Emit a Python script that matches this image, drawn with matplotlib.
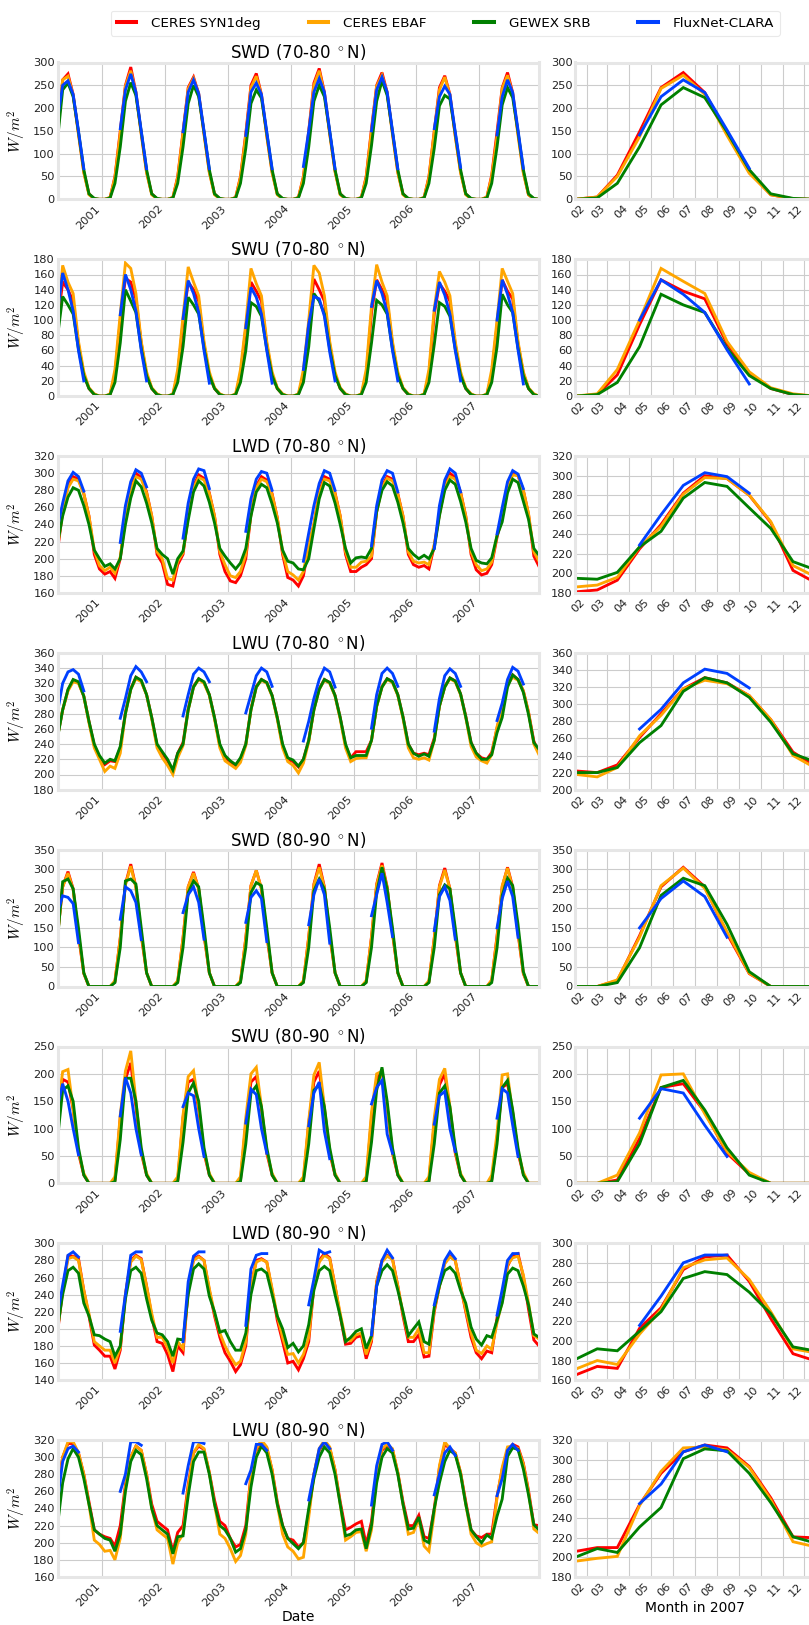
import numpy as np
import matplotlib
matplotlib.use("Agg")
import matplotlib.pyplot as plt
import matplotlib.dates as mdates
from matplotlib.lines import Line2D
from datetime import datetime

N = None

# Monthly values, Apr 2000 .. Dec 2007 (first row = Apr-Dec 2000, then one row per year)
datasets = ["CERES SYN1deg", "CERES EBAF", "GEWEX SRB", "FluxNet-CLARA"]
colors = ["#ff0000", "#ffa500", "#008000", "#0040ff"]
panel_titles = ["SWD (70-80 $^\\circ$N)", "SWU (70-80 $^\\circ$N)", "LWD (70-80 $^\\circ$N)",
                "LWU (70-80 $^\\circ$N)", "SWD (80-90 $^\\circ$N)", "SWU (80-90 $^\\circ$N)",
                "LWD (80-90 $^\\circ$N)", "LWU (80-90 $^\\circ$N)"]
year_ticks = ["2001", "2002", "2003", "2004", "2005", "2006", "2007"]
month_ticks = ["02", "03", "04", "05", "06", "07", "08", "09", "10", "11", "12"]

swd70_syn = [
    140, 262, 275, 230, 145, 60, 12, 1, 0,
    0, 4, 50, 150, 250, 290, 235, 145, 60, 12, 1, 0,
    0, 4, 50, 148, 245, 268, 232, 145, 60, 12, 1, 0,
    0, 4, 50, 145, 250, 276, 230, 140, 60, 12, 1, 0,
    0, 4, 50, 150, 255, 287, 235, 145, 62, 12, 1, 0,
    0, 4, 50, 155, 250, 278, 235, 145, 60, 12, 1, 0,
    0, 4, 50, 150, 245, 271, 230, 140, 60, 12, 1, 0,
    0, 5, 53, 148, 245, 278, 234, 145, 60, 10, 1, 0]
swd70_ebaf = [
    150, 262, 270, 228, 142, 58, 10, 1, 0,
    0, 4, 48, 145, 248, 282, 232, 142, 58, 10, 1, 0,
    0, 4, 48, 145, 242, 265, 230, 142, 58, 10, 1, 0,
    0, 4, 48, 140, 245, 270, 228, 138, 58, 10, 1, 0,
    0, 4, 48, 145, 250, 282, 232, 142, 60, 10, 1, 0,
    0, 4, 48, 150, 248, 272, 232, 142, 58, 10, 1, 0,
    0, 4, 48, 148, 240, 268, 228, 138, 58, 10, 1, 0,
    0, 5, 50, 137, 243, 272, 230, 140, 57, 10, 1, 0]
swd70_srb = [
    130, 240, 255, 225, 148, 65, 12, 2, 0,
    0, 3, 35, 115, 215, 256, 228, 148, 65, 12, 2, 0,
    0, 3, 35, 115, 210, 250, 225, 148, 65, 12, 2, 0,
    0, 3, 35, 112, 210, 240, 222, 145, 65, 12, 2, 0,
    0, 3, 35, 115, 215, 250, 225, 148, 65, 12, 2, 0,
    0, 3, 35, 118, 215, 260, 228, 148, 65, 12, 2, 0,
    0, 3, 35, 112, 205, 228, 220, 145, 65, 12, 2, 0,
    0, 3, 35, 115, 207, 245, 223, 148, 65, 12, 2, 0]
swd70_fnc = [
    175, 250, 260, 230, 150, 67, N, N, N,
    N, N, N, 155, 240, 275, 235, 150, 67, N, N, N,
    N, N, N, 148, 235, 262, 232, 150, 67, N, N, N,
    N, N, N, 140, 235, 255, 230, 148, 67, N, N, N,
    N, N, 72, 150, 235, 265, 235, 150, 67, N, N, N,
    N, N, N, 150, 240, 268, 235, 150, 67, N, N, N,
    N, N, N, 155, 225, 248, 230, 148, 70, N, N, N,
    N, N, N, 141, 225, 262, 234, 152, 68, N, N, N]

swu70_syn = [
    95, 150, 140, 125, 68, 28, 10, 2, 0,
    0, 2, 28, 100, 155, 150, 128, 70, 28, 10, 2, 0,
    0, 2, 28, 98, 150, 140, 125, 68, 28, 10, 2, 0,
    0, 2, 28, 90, 150, 138, 125, 68, 28, 10, 2, 0,
    0, 2, 28, 95, 154, 140, 125, 68, 28, 10, 2, 0,
    0, 2, 28, 110, 153, 140, 125, 68, 28, 10, 2, 0,
    0, 2, 28, 108, 148, 138, 125, 68, 28, 10, 2, 0,
    0, 2, 28, 94, 153, 138, 128, 69, 30, 10, 2, 0]
swu70_ebaf = [
    100, 172, 150, 135, 72, 32, 11, 3, 0,
    0, 3, 35, 108, 175, 168, 135, 72, 32, 11, 3, 0,
    0, 3, 35, 105, 170, 150, 132, 72, 32, 11, 3, 0,
    0, 3, 35, 95, 168, 148, 132, 72, 32, 11, 3, 0,
    0, 3, 35, 100, 172, 162, 132, 72, 32, 11, 3, 0,
    0, 3, 35, 118, 173, 150, 132, 72, 32, 11, 3, 0,
    0, 3, 35, 115, 164, 150, 132, 72, 32, 11, 3, 0,
    0, 3, 35, 100, 168, 151, 135, 72, 32, 11, 3, 0]
swu70_srb = [
    78, 131, 120, 108, 62, 27, 10, 2, 0,
    0, 2, 18, 70, 140, 125, 110, 63, 27, 10, 2, 0,
    0, 2, 18, 65, 130, 120, 108, 63, 27, 10, 2, 0,
    0, 2, 18, 60, 123, 118, 105, 62, 27, 10, 2, 0,
    0, 2, 18, 65, 135, 125, 108, 62, 27, 10, 2, 0,
    0, 2, 18, 70, 126, 120, 108, 62, 27, 10, 2, 0,
    0, 2, 18, 68, 123, 118, 105, 62, 27, 10, 2, 0,
    0, 2, 18, 65, 134, 120, 110, 63, 27, 10, 2, 0]
swu70_fnc = [
    110, 162, 140, 112, 60, 20, N, N, N,
    N, N, N, 107, 160, 140, 112, 60, 20, N, N, N,
    N, N, N, 102, 152, 135, 110, 60, 17, N, N, N,
    N, N, N, 90, 143, 130, 108, 60, 17, N, N, N,
    N, N, 35, 95, 131, 128, 105, 58, 20, N, N, N,
    N, N, N, 118, 152, 135, 110, 60, 20, N, N, N,
    N, N, N, 113, 150, 133, 108, 60, 20, N, N, N,
    N, N, N, 100, 153, 134, 110, 61, 16, N, N, N]

lwd70_syn = [
    209, 255, 285, 296, 293, 276, 250, 205, 188,
    182, 185, 177, 200, 248, 282, 300, 295, 278, 250, 205, 195,
    170, 168, 193, 205, 250, 285, 298, 294, 277, 250, 205, 185,
    174, 172, 180, 200, 252, 285, 296, 292, 276, 248, 205, 178,
    175, 168, 180, 215, 240, 278, 296, 293, 277, 250, 205, 185,
    185, 190, 193, 200, 255, 285, 296, 293, 276, 250, 205, 193,
    190, 192, 188, 215, 252, 285, 300, 295, 278, 250, 205, 187,
    181, 183, 193, 225, 250, 282, 300, 297, 280, 252, 203, 191]
lwd70_ebaf = [
    213, 255, 283, 293, 291, 276, 250, 210, 192,
    186, 190, 183, 202, 247, 281, 296, 293, 277, 250, 208, 200,
    177, 175, 197, 207, 250, 283, 295, 292, 276, 250, 208, 193,
    180, 178, 185, 205, 252, 283, 293, 290, 275, 248, 208, 185,
    181, 175, 185, 217, 240, 276, 293, 291, 276, 250, 208, 190,
    190, 196, 197, 203, 255, 283, 294, 291, 275, 250, 208, 197,
    195, 196, 193, 217, 252, 283, 296, 293, 277, 250, 208, 193,
    186, 188, 196, 227, 248, 281, 298, 297, 280, 253, 208, 197]
lwd70_srb = [
    217, 250, 272, 283, 280, 262, 240, 210, 200,
    191, 194, 188, 200, 240, 271, 291, 284, 265, 242, 212, 205,
    200, 182, 200, 209, 245, 278, 291, 285, 266, 242, 212, 203,
    195, 188, 195, 212, 250, 278, 287, 283, 264, 242, 210, 197,
    195, 188, 187, 200, 235, 270, 289, 285, 265, 240, 212, 195,
    201, 202, 201, 212, 255, 280, 290, 285, 266, 242, 212, 205,
    200, 204, 200, 212, 250, 280, 292, 287, 267, 243, 212, 198,
    195, 194, 201, 227, 243, 277, 293, 289, 267, 246, 212, 204]
lwd70_fnc = [
    236, 265, 291, 301, 296, 279, N, N, N,
    N, N, N, 219, 262, 290, 304, 300, 284, N, N, N,
    N, N, N, 224, 265, 293, 305, 303, 282, N, N, N,
    N, N, N, 232, 270, 293, 302, 300, 280, N, N, N,
    N, N, 197, 230, 262, 288, 303, 300, 280, N, N, N,
    N, N, N, 215, 262, 292, 303, 300, 278, N, N, N,
    N, N, N, 212, 262, 292, 305, 300, 278, N, N, N,
    N, N, N, 229, 260, 290, 303, 299, 282, N, N, N]

lwu70_syn = [
    250, 285, 311, 324, 321, 303, 270, 238, 223,
    213, 218, 217, 235, 282, 313, 328, 323, 305, 275, 238, 228,
    218, 205, 228, 242, 286, 316, 326, 321, 305, 275, 238, 223,
    216, 212, 220, 240, 286, 316, 325, 321, 304, 275, 238, 220,
    217, 210, 220, 245, 286, 313, 325, 321, 304, 275, 238, 222,
    230, 230, 230, 245, 290, 316, 326, 322, 305, 276, 240, 228,
    226, 228, 226, 248, 290, 316, 327, 323, 306, 277, 242, 228,
    222, 220, 229, 261, 289, 318, 331, 325, 310, 282, 244, 228]
lwu70_ebaf = [
    250, 285, 310, 322, 320, 303, 268, 235, 220,
    204, 211, 208, 228, 280, 312, 326, 322, 305, 273, 235, 222,
    212, 200, 222, 238, 285, 315, 325, 320, 304, 273, 235, 218,
    213, 208, 216, 238, 285, 315, 324, 320, 303, 273, 235, 217,
    212, 202, 215, 243, 285, 312, 324, 320, 303, 273, 235, 217,
    221, 222, 222, 245, 290, 315, 325, 321, 304, 274, 235, 222,
    220, 222, 219, 245, 290, 315, 326, 322, 305, 275, 237, 223,
    218, 215, 226, 263, 287, 318, 328, 324, 310, 282, 240, 226]
lwu70_srb = [
    248, 285, 312, 325, 322, 303, 270, 240, 225,
    215, 220, 218, 237, 280, 312, 328, 324, 305, 275, 240, 230,
    220, 206, 228, 240, 285, 315, 326, 322, 305, 275, 240, 225,
    218, 213, 222, 240, 285, 315, 325, 321, 304, 275, 240, 222,
    219, 211, 220, 245, 285, 312, 325, 321, 304, 275, 240, 222,
    225, 225, 225, 245, 290, 315, 326, 322, 305, 276, 240, 228,
    224, 227, 224, 245, 290, 315, 327, 323, 306, 276, 242, 228,
    220, 220, 226, 255, 275, 315, 331, 325, 308, 279, 242, 233]
lwu70_fnc = [
    282, 320, 335, 338, 332, 310, N, N, N,
    N, N, N, 274, 300, 330, 342, 335, 322, N, N, N,
    N, N, N, 277, 305, 332, 340, 335, 322, N, N, N,
    N, N, N, 281, 305, 330, 340, 335, 316, N, N, N,
    N, N, 244, 270, 300, 325, 340, 335, 315, N, N, N,
    N, N, N, 261, 305, 333, 340, 333, 316, N, N, N,
    N, N, N, 257, 300, 330, 339, 333, 316, N, N, N,
    N, N, N, 271, 294, 325, 341, 336, 319, N, N, N]

swd80_syn = [
    130, 255, 294, 250, 130, 33, 0, 0, 0,
    0, 0, 12, 125, 262, 313, 255, 130, 35, 0, 0, 0,
    0, 0, 12, 125, 255, 293, 250, 130, 35, 0, 0, 0,
    0, 0, 12, 125, 258, 297, 250, 130, 35, 0, 0, 0,
    0, 0, 12, 128, 262, 313, 255, 130, 35, 0, 0, 0,
    0, 0, 12, 128, 262, 316, 255, 135, 35, 0, 0, 0,
    0, 0, 12, 125, 258, 303, 250, 130, 35, 0, 0, 0,
    0, 0, 15, 130, 255, 305, 255, 135, 33, 0, 0, 0]
swd80_ebaf = [
    128, 255, 290, 248, 135, 34, 0, 0, 0,
    0, 0, 15, 123, 260, 308, 253, 135, 35, 0, 0, 0,
    0, 0, 15, 123, 255, 290, 250, 135, 35, 0, 0, 0,
    0, 0, 15, 123, 258, 297, 250, 135, 35, 0, 0, 0,
    0, 0, 15, 126, 260, 305, 253, 135, 35, 0, 0, 0,
    0, 0, 15, 126, 260, 310, 253, 138, 35, 0, 0, 0,
    0, 0, 15, 123, 255, 298, 250, 135, 35, 0, 0, 0,
    0, 0, 17, 126, 258, 303, 251, 140, 34, 0, 0, 0]
swd80_srb = [
    120, 268, 275, 250, 150, 35, 0, 0, 0,
    0, 0, 10, 100, 270, 275, 262, 150, 35, 0, 0, 0,
    0, 0, 10, 100, 240, 270, 255, 150, 35, 0, 0, 0,
    0, 0, 10, 100, 240, 266, 258, 150, 35, 0, 0, 0,
    0, 0, 10, 100, 245, 275, 250, 150, 35, 0, 0, 0,
    0, 0, 10, 100, 240, 305, 250, 150, 35, 0, 0, 0,
    0, 0, 10, 100, 235, 260, 250, 150, 35, 0, 0, 0,
    0, 0, 10, 99, 233, 277, 258, 159, 38, 0, 0, 0]
swd80_fnc = [
    190, 232, 228, 212, 112, N, N, N, N,
    N, N, N, 172, 255, 245, 215, 120, N, N, N, N,
    N, N, N, 189, 235, 255, 215, 121, N, N, N, N,
    N, N, N, 164, 228, 245, 225, 115, N, N, N, N,
    N, N, N, 158, 235, 275, 235, 111, N, N, N, N,
    N, N, N, 181, 235, 290, 215, 128, N, N, N, N,
    N, N, N, 143, 230, 255, 220, 121, N, N, N, N,
    N, N, N, 150, 225, 270, 230, 126, N, N, N, N]

swu80_syn = [
    120, 190, 185, 135, 55, 15, 0, 0, 0,
    0, 0, 5, 120, 190, 220, 140, 55, 15, 0, 0, 0,
    0, 0, 5, 120, 185, 190, 135, 55, 15, 0, 0, 0,
    0, 0, 5, 110, 185, 195, 135, 55, 15, 0, 0, 0,
    0, 0, 5, 110, 185, 205, 135, 55, 15, 0, 0, 0,
    0, 0, 5, 120, 190, 205, 140, 55, 15, 0, 0, 0,
    0, 0, 5, 110, 180, 200, 135, 55, 15, 0, 0, 0,
    0, 0, 6, 82, 175, 182, 130, 55, 17, 0, 0, 0]
swu80_ebaf = [
    130, 204, 208, 135, 58, 18, 0, 0, 0,
    0, 0, 12, 125, 205, 242, 150, 58, 18, 0, 0, 0,
    0, 0, 12, 125, 195, 206, 140, 58, 18, 0, 0, 0,
    0, 0, 12, 120, 200, 212, 140, 58, 18, 0, 0, 0,
    0, 0, 12, 115, 198, 221, 140, 58, 18, 0, 0, 0,
    0, 0, 12, 130, 200, 205, 140, 58, 18, 0, 0, 0,
    0, 0, 12, 120, 190, 210, 140, 58, 18, 0, 0, 0,
    0, 0, 15, 92, 198, 200, 127, 58, 20, 0, 0, 0]
swu80_srb = [
    80, 170, 178, 150, 65, 15, 0, 0, 0,
    0, 0, 3, 80, 192, 192, 150, 65, 15, 0, 0, 0,
    0, 0, 3, 75, 165, 183, 150, 65, 15, 0, 0, 0,
    0, 0, 3, 72, 165, 178, 140, 65, 15, 0, 0, 0,
    0, 0, 3, 72, 170, 180, 140, 65, 15, 0, 0, 0,
    0, 0, 3, 75, 170, 212, 150, 65, 15, 0, 0, 0,
    0, 0, 3, 72, 165, 178, 140, 65, 15, 0, 0, 0,
    0, 0, 3, 72, 175, 188, 134, 65, 15, 0, 0, 0]
swu80_fnc = [
    140, 182, 150, 100, 52, N, N, N, N,
    N, N, N, 123, 193, 165, 100, 52, N, N, N, N,
    N, N, N, 140, 165, 160, 100, 49, N, N, N, N,
    N, N, N, 110, 172, 162, 100, 55, N, N, N, N,
    N, N, N, 105, 165, 185, 95, 45, N, N, N, N,
    N, N, N, 145, 175, 188, 90, 55, N, N, N, N,
    N, N, N, 108, 160, 168, 100, 58, N, N, N, N,
    N, N, N, 119, 173, 165, 106, 49, N, N, N, N]

lwd80_syn = [
    195, 245, 285, 285, 282, 245, 215, 181, 175,
    168, 168, 153, 175, 240, 280, 286, 282, 250, 215, 185, 183,
    170, 150, 180, 172, 245, 282, 285, 280, 245, 215, 190, 172,
    162, 150, 158, 180, 250, 280, 282, 278, 245, 210, 185, 160,
    162, 152, 165, 185, 250, 280, 288, 283, 250, 215, 182, 183,
    190, 192, 165, 185, 255, 280, 286, 282, 250, 215, 185, 185,
    193, 167, 168, 220, 250, 278, 285, 280, 250, 220, 190, 172,
    165, 174, 172, 213, 234, 273, 286, 288, 261, 223, 187, 180]
lwd80_ebaf = [
    198, 245, 282, 284, 280, 245, 218, 185, 180,
    175, 175, 160, 178, 240, 278, 285, 281, 250, 218, 190, 190,
    178, 160, 185, 177, 245, 280, 284, 280, 247, 218, 195, 180,
    168, 158, 162, 185, 250, 278, 281, 278, 247, 215, 190, 170,
    171, 160, 170, 190, 250, 278, 286, 282, 250, 218, 188, 186,
    193, 195, 170, 188, 255, 278, 285, 281, 250, 218, 190, 190,
    200, 172, 172, 222, 250, 276, 284, 280, 250, 222, 195, 175,
    171, 180, 176, 207, 232, 275, 283, 285, 263, 230, 192, 188]
lwd80_srb = [
    200, 240, 268, 272, 265, 230, 215, 193, 192,
    188, 185, 168, 180, 235, 268, 272, 265, 235, 210, 195, 193,
    185, 168, 188, 187, 240, 270, 276, 270, 238, 220, 196, 198,
    185, 175, 175, 195, 240, 268, 270, 265, 240, 215, 200, 178,
    183, 173, 180, 205, 245, 268, 273, 268, 240, 215, 185, 190,
    197, 200, 177, 192, 250, 268, 275, 268, 245, 220, 192, 200,
    208, 185, 182, 225, 250, 268, 272, 265, 245, 230, 202, 188,
    181, 192, 190, 210, 230, 264, 271, 268, 250, 228, 194, 190]
lwd80_fnc = [
    216, 251, 286, 290, 284, N, N, N, N,
    N, N, N, 197, 240, 286, 290, 290, N, N, N, N,
    N, N, N, 185, 255, 285, 290, 290, N, N, N, N,
    N, N, N, 204, 270, 286, 288, 288, N, N, N, N,
    N, N, N, 228, 258, 292, 288, 290, N, N, N, N,
    N, N, N, 193, 250, 280, 292, 283, N, N, N, N,
    N, N, N, 228, 255, 280, 290, 282, N, N, N, N,
    N, N, N, 216, 246, 280, 288, 288, N, N, N, N]

lwu80_syn = [
    262, 300, 316, 316, 305, 280, 248, 215, 210,
    207, 205, 196, 220, 268, 300, 313, 308, 280, 245, 225, 220,
    215, 190, 212, 220, 268, 305, 313, 309, 282, 250, 225, 220,
    205, 195, 198, 220, 280, 308, 318, 311, 285, 248, 220, 205,
    203, 195, 200, 235, 280, 308, 318, 311, 285, 248, 215, 218,
    222, 225, 198, 225, 280, 308, 314, 309, 282, 248, 220, 220,
    232, 207, 205, 240, 288, 315, 310, 305, 282, 248, 215, 208,
    206, 210, 210, 254, 286, 308, 315, 312, 293, 261, 221, 220]
lwu80_ebaf = [
    260, 300, 318, 318, 305, 280, 245, 203, 198,
    190, 191, 180, 205, 265, 300, 313, 308, 280, 240, 215, 210,
    205, 175, 200, 210, 265, 305, 315, 310, 282, 245, 210, 205,
    193, 178, 185, 210, 280, 310, 320, 312, 285, 245, 210, 195,
    190, 181, 183, 230, 280, 310, 320, 312, 285, 245, 203, 207,
    212, 213, 190, 215, 280, 310, 315, 310, 282, 245, 210, 212,
    228, 196, 190, 235, 290, 318, 310, 305, 282, 245, 210, 200,
    196, 199, 201, 253, 288, 312, 313, 310, 292, 259, 216, 211]
lwu80_srb = [
    220, 270, 298, 310, 300, 275, 245, 215, 210,
    205, 203, 190, 210, 260, 295, 308, 303, 275, 240, 220, 215,
    210, 187, 207, 208, 255, 295, 306, 306, 280, 245, 220, 215,
    205, 189, 193, 215, 265, 300, 313, 305, 280, 245, 220, 205,
    199, 193, 200, 240, 275, 300, 312, 305, 280, 245, 208, 210,
    215, 216, 193, 220, 270, 300, 310, 305, 280, 245, 216, 217,
    230, 203, 200, 240, 270, 295, 308, 303, 280, 245, 215, 207,
    200, 209, 205, 231, 251, 301, 311, 309, 286, 256, 221, 215]
lwu80_fnc = [
    248, 295, 310, 313, 306, N, N, N, N,
    N, N, N, 260, 280, 318, 318, 314, N, N, N, N,
    N, N, N, 258, 290, 318, 318, 316, N, N, N, N,
    N, N, N, 269, 285, 315, 315, 308, N, N, N, N,
    N, N, N, 250, 280, 310, 318, 310, N, N, N, N,
    N, N, N, 244, 290, 315, 318, 308, N, N, N, N,
    N, N, N, 256, 280, 305, 312, 302, N, N, N, N,
    N, N, N, 255, 275, 308, 315, 308, N, N, N, N]

panel_series = [
    [swd70_syn, swd70_ebaf, swd70_srb, swd70_fnc],
    [swu70_syn, swu70_ebaf, swu70_srb, swu70_fnc],
    [lwd70_syn, lwd70_ebaf, lwd70_srb, lwd70_fnc],
    [lwu70_syn, lwu70_ebaf, lwu70_srb, lwu70_fnc],
    [swd80_syn, swd80_ebaf, swd80_srb, swd80_fnc],
    [swu80_syn, swu80_ebaf, swu80_srb, swu80_fnc],
    [lwd80_syn, lwd80_ebaf, lwd80_srb, lwd80_fnc],
    [lwu80_syn, lwu80_ebaf, lwu80_srb, lwu80_fnc],
]
left_ylims = [(0, 300, 50), (0, 180, 20), (160, 320, 20), (180, 360, 20),
              (0, 350, 50), (0, 250, 50), (140, 300, 20), (160, 320, 20)]
right_ylims = [(0, 300, 50), (0, 180, 20), (180, 320, 20), (200, 360, 20),
               (0, 350, 50), (0, 250, 50), (160, 300, 20), (180, 320, 20)]

# ---------------------------------------------------------------- layout
plt.rcParams["font.family"] = ["DejaVu Sans"]
plt.rcParams["mathtext.fontset"] = "cm"

W, H = 809, 1625
fig = plt.figure(figsize=(W / 100, H / 100), dpi=100)
fig.patch.set_facecolor("white")

dates = []
yy, mm = 2000, 4
while (yy, mm) <= (2007, 12):
    dates.append(datetime(yy, mm, 15))
    mm += 1
    if mm > 12:
        mm, yy = 1, yy + 1
xd = mdates.date2num(dates)

spine_col = "#e6e6e6"
grid_col = "#cccccc"
lw = 2.05


def style(ax):
    ax.set_facecolor("white")
    for sp in ax.spines.values():
        sp.set_color(spine_col)
        sp.set_linewidth(2.2)
    ax.grid(True, color=grid_col, lw=0.8)
    ax.set_axisbelow(True)
    ax.tick_params(axis="both", length=0, labelsize=8.2, colors="#222222")
    ax.tick_params(axis="y", pad=1.8)
    ax.tick_params(axis="x", pad=3.0)


lx0, lx1 = 57.5, 539.0
rx0, rx1 = 575.0, 814.5
top0, step, h = 62.5, 196.8, 136.8

for k in range(8):
    top = top0 + step * k
    bottom = 1 - (top + h) / H
    axl = fig.add_axes([lx0 / W, bottom, (lx1 - lx0) / W, h / H])
    axr = fig.add_axes([rx0 / W, bottom, (rx1 - rx0) / W, h / H])
    for ax in (axl, axr):
        style(ax)
        for s, c in zip(panel_series[k], colors):
            vals = np.array([np.nan if v is None else v for v in s], dtype=float)
            ax.plot(xd, vals, color=c, lw=lw, solid_joinstyle="miter")
    # left
    y0, y1, ys = left_ylims[k]
    axl.set_ylim(y0, y1)
    axl.set_yticks(np.arange(y0, y1 + 1, ys))
    axl.set_xlim(mdates.date2num(datetime(2000, 4, 15)), mdates.date2num(datetime(2007, 12, 15)))
    axl.set_xticks(mdates.date2num([datetime(int(t), 1, 1) for t in year_ticks]))
    axl.set_xticklabels(year_ticks, rotation=45, ha="right")
    axl.set_title(panel_titles[k], fontsize=12, pad=3)
    axl.set_ylabel("$W/m^2$", fontsize=11)
    axl.yaxis.set_label_coords(-0.062, 0.5)
    # right
    y0, y1, ys = right_ylims[k]
    axr.set_ylim(y0, y1)
    axr.set_yticks(np.arange(y0, y1 + 1, ys))
    axr.set_xlim(mdates.date2num(datetime(2007, 1, 15)), mdates.date2num(datetime(2007, 12, 15)))
    axr.set_xticks(mdates.date2num([datetime(2007, int(t), 1) for t in month_ticks]))
    axr.set_xticklabels(month_ticks, rotation=45, ha="right")
    if k == 7:
        axl.set_xlabel("Date", fontsize=10, labelpad=1)
        axr.set_xlabel("Month in 2007", fontsize=10, labelpad=2)

handles = [Line2D([0], [0], color=c, lw=2.9) for c in colors]
leg = fig.legend(handles, datasets, loc="upper left", bbox_to_anchor=(104 / W, 1 - 4 / H),
                 ncol=4, fontsize=9.7, handlelength=1.45, handletextpad=1.1,
                 columnspacing=3.55, frameon=True, fancybox=True, borderpad=0.45)
leg.get_frame().set_edgecolor("#e4e4e4")
leg.get_frame().set_linewidth(0.8)

fig.savefig("out.png", dpi=100, facecolor="white")
